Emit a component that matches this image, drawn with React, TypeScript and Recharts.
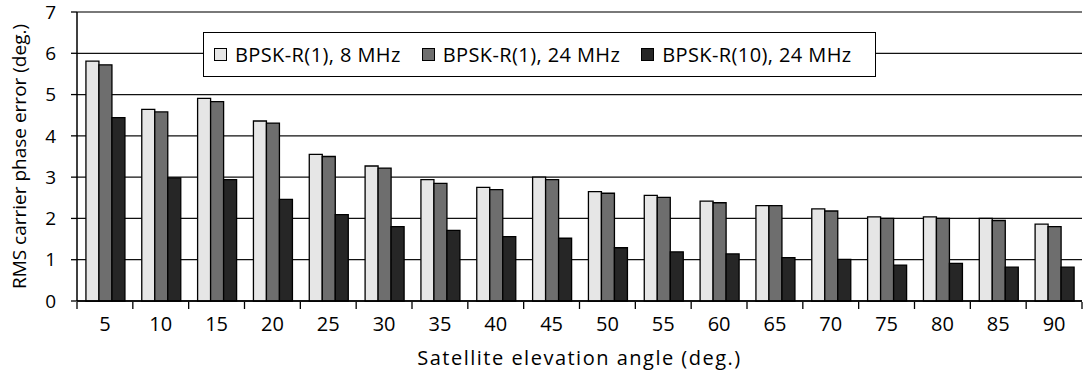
import { BarChart, Bar, XAxis, YAxis, CartesianGrid, Legend, ReferenceLine } from 'recharts';

const angles = [5, 10, 15, 20, 25, 30, 35, 40, 45, 50, 55, 60, 65, 70, 75, 80, 85, 90];
const bpsk1_8 = [5.81, 4.64, 4.91, 4.36, 3.55, 3.27, 2.94, 2.75, 3.0, 2.65, 2.56, 2.42, 2.31, 2.23, 2.04, 2.04, 2.0, 1.86];
const bpsk1_24 = [5.72, 4.58, 4.83, 4.31, 3.5, 3.22, 2.85, 2.7, 2.94, 2.61, 2.51, 2.38, 2.31, 2.18, 2.0, 2.0, 1.95, 1.8];
const bpsk10_24 = [4.44, 2.98, 2.94, 2.46, 2.09, 1.8, 1.71, 1.56, 1.52, 1.29, 1.19, 1.14, 1.05, 1.01, 0.87, 0.91, 0.82, 0.82];
const yTicks = [0, 1, 2, 3, 4, 5, 6, 7];
const boundaryTicks = Array.from({ length: angles.length + 1 }, (_, i) => i);

const series = [
  { key: 'a', name: 'BPSK-R(1), 8 MHz', color: '#e6e6e6' },
  { key: 'b', name: 'BPSK-R(1), 24 MHz', color: '#6e6e6e' },
  { key: 'c', name: 'BPSK-R(10), 24 MHz', color: '#262626' },
];

const rows = angles.map((angle, i) => ({
  angle: String(angle),
  pos: i + 0.5,
  a: bpsk1_8[i],
  b: bpsk1_24[i],
  c: bpsk10_24[i],
}));

const FONT = '"Open Sans", sans-serif';

function LegendBox() {
  return (
    <div
      style={{
        border: '1.5px solid #000',
        background: '#fff',
        height: 45,
        display: 'flex',
        alignItems: 'center',
        paddingLeft: 10,
        gap: 21,
        fontFamily: FONT,
        fontSize: 20,
        letterSpacing: 0.4,
        color: '#000',
        boxSizing: 'border-box',
        whiteSpace: 'nowrap',
      }}
    >
      {series.map((s) => (
        <span key={s.key} style={{ display: 'flex', alignItems: 'center', gap: 8 }}>
          <span style={{ width: 11, height: 11, background: s.color, border: '1.2px solid #000', display: 'inline-block' }} />
          {s.name}
        </span>
      ))}
    </div>
  );
}

export default function App() {
  return (
    <div style={{ position: 'absolute', left: 0, top: 0, background: '#fff' }}>
      <BarChart
        width={1089}
        height={377}
        data={rows}
        margin={{ top: 12, right: 7, bottom: 6, left: 0 }}
        barCategoryGap="16%"
        barGap={0}
      >
        <CartesianGrid vertical={false} stroke="#111" strokeWidth={1.3} />
        <XAxis
          xAxisId="edges"
          dataKey="pos"
          type="number"
          domain={[0, angles.length]}
          ticks={boundaryTicks}
          interval={0}
          allowDataOverflow
          tickFormatter={() => ''}
          tick={{ fill: 'none', fontSize: 1 }}
          axisLine={false}
          tickLine={{ stroke: '#000', strokeWidth: 1.3 }}
          tickSize={7}
          height={69}
          label={{ value: 'Satellite elevation angle (deg.)', position: 'insideBottom', offset: 6, fill: '#000', fontSize: 20, fontFamily: FONT, letterSpacing: 1.5 }}
        />
        <XAxis
          xAxisId="cat"
          dataKey="angle"
          tickLine={false}
          axisLine={{ stroke: '#000', strokeWidth: 1.5 }}
          tick={{ fill: '#000', fontSize: 20, fontFamily: FONT }}
          tickMargin={10}
          interval={0}
          height={1}
        />
        <YAxis
          domain={[0, 7]}
          ticks={yTicks}
          width={77}
          axisLine={{ stroke: '#000', strokeWidth: 1.5 }}
          tickLine={{ stroke: '#000', strokeWidth: 1.3 }}
          tickSize={6}
          tickMargin={15}
          tick={{ fill: '#000', fontSize: 19, fontFamily: FONT }}
          label={{ value: 'RMS carrier phase error (deg.)', angle: -90, position: 'insideLeft', offset: 19, style: { textAnchor: 'middle' }, fill: '#000', fontSize: 19, fontFamily: FONT }}
        />
        <YAxis yAxisId="right" orientation="right" width={0} tick={false} tickLine={false} axisLine={{ stroke: '#888', strokeWidth: 1.5 }} />
        <ReferenceLine y={7} stroke="#888" strokeWidth={1.5} xAxisId="cat" />
        <Legend
          layout="horizontal"
          verticalAlign="middle"
          align="center"
          content={() => <LegendBox />}
          wrapperStyle={{ left: 203, top: 32, width: 673 }}
        />
        {series.map((s) => (
          <Bar
            key={s.key}
            xAxisId="cat"
            dataKey={s.key}
            name={s.name}
            fill={s.color}
            stroke="#000"
            strokeWidth={1.3}
            isAnimationActive={false}
          />
        ))}
      </BarChart>
    </div>
  );
}
